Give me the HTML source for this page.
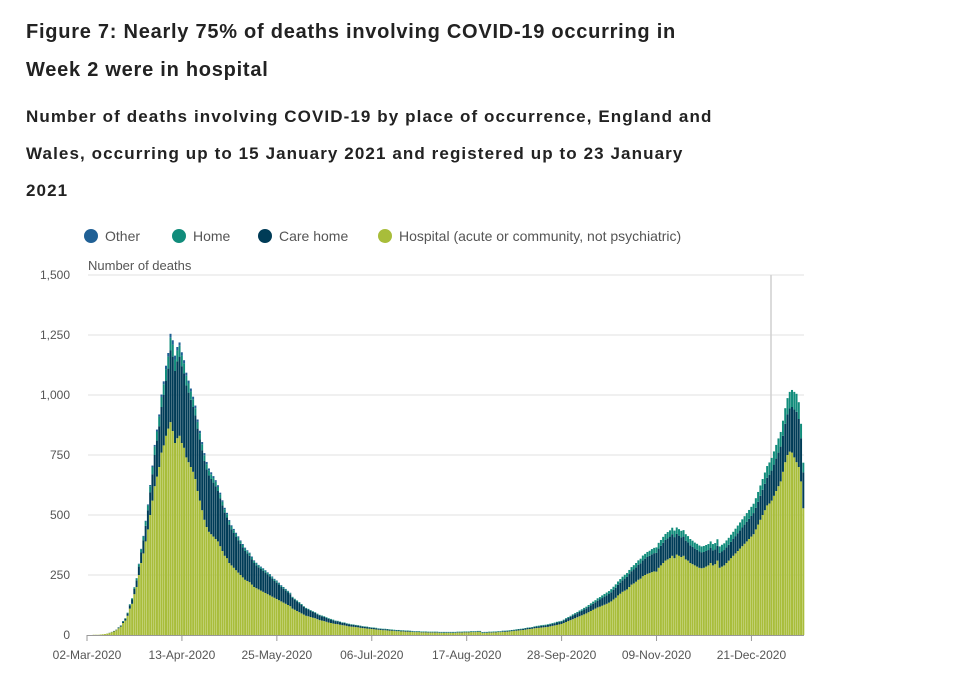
<!DOCTYPE html>
<html><head><meta charset="utf-8"><style>
body{margin:0;background:#fff;width:962px;height:696px;overflow:hidden;font-family:"Liberation Sans",sans-serif;}
.t{position:absolute;left:26px;font-weight:bold;color:#222;}
</style></head><body>
<div class="t" style="top:13px;font-size:20px;line-height:38px;letter-spacing:0.75px;">Figure 7: Nearly 75% of deaths involving COVID-19 occurring in<br>Week 2 were in hospital</div>
<div class="t" style="top:98px;font-size:17px;line-height:37px;letter-spacing:1.1px;">Number of deaths involving COVID-19 by place of occurrence, England and<br>Wales, occurring up to 15 January 2021 and registered up to 23 January<br>2021</div>
<svg id="c" width="962" height="696" style="position:absolute;left:0;top:0"></svg>
<script>
const hosp=[0,0,0,1,1,1,2, 3,4,6,8,12,15,20, 28,35,50,60,80,110,130, 170,200,250,300,340,390,440, 500,560,620,660,700,760,790, 830,860,887,850,800,820,830,
800,780,740,720,700,680,650, 600,560,520,480,450,430,420, 410,400,390,370,350,330,320, 300,290,280,270,260,250,240, 230,225,220,210,200,195,190,
185,180,175,170,165,160,155, 150,145,140,135,130,125,120, 110,105,100,95,90,85,80, 78,75,72,70,66,62,60, 58,55,52,50,48,46,45, 43,41,40,38,36,35,34,
33,32,30,29,28,27,26, 25,24,23,22,21,20,20, 19,18,18,17,16,16,15, 15,14,14,13,13,12,12, 12,11,11,11,10,10,10, 10,10,9,9,9,9,9, 9,9,9,10,10,10,11,
11,11,12,12,12,13,13, 8,9,9,10,10,11,11, 12,12,13,13,14,15,16, 17,18,19,20,21,22,24, 25,26,28,29,30,31,32, 33,34,36,38,40,42,44,
46,50,54,58,62,66,70, 74,78,82,86,90,95,100, 105,110,115,118,122,126,130, 135,140,148,155,165,172,180, 185,190,200,210,215,222,230, 235,245,250,255,258,262,265,
264,280,290,300,310,315,320, 330,320,335,330,325,330,315, 310,300,295,290,285,280,278, 280,285,290,300,290,295,310, 280,285,290,300,310,320,330, 340,350,360,370,380,390,400,
410,420,440,460,480,500,520, 540,548,560,580,600,620,640, 680,720,750,764,760,740,720, 700,640,528];
const careHome=[0,0,0,0,0,0,0, 0,0,0,1,1,2,2, 3,4,6,8,10,14,18, 22,28,35,45,55,65,80, 95,110,130,150,170,190,210, 230,250,300,310,300,320,330,
320,310,300,290,280,270,265, 260,255,250,245,240,235,230, 225,220,210,200,190,180,170, 160,150,145,140,135,130,125, 120,115,110,105,100,95,92,
90,88,85,82,80,75,70, 68,65,60,58,55,52,50, 45,42,40,38,35,32,30, 28,26,24,22,20,19,18, 17,16,15,14,13,12,12, 11,10,10,9,9,8,8, 7,7,7,6,6,6,5,
5,5,5,4,4,4,4, 4,4,3,3,3,3,3, 3,3,3,3,2,2,2, 2,2,2,2,2,2,2, 2,2,2,2,2,2,2, 2,2,2,2,2,2,2, 2,2,2,2,2,2,2, 2,2,2,2,2,2,2,
2,2,3,3,3,3,3, 3,4,4,4,4,5,5, 5,5,6,6,6,7,7, 7,8,8,9,9,10,10,
10,11,12,13,14,15,16, 17,18,19,20,21,22,24, 25,26,28,30,32,34,35, 36,38,40,42,44,46,48, 50,52,54,56,58,60,62, 64,66,68,70,72,74,76,
78,80,82,84,86,88,90, 90,88,86,84,82,80,78, 76,74,72,70,70,68,66, 66,65,64,64,63,62,62, 62,63,64,65,66,68,70, 72,74,76,78,80,82,84,
86,88,90,95,100,105,110, 115,120,125,130,135,140,145, 150,160,170,180,190,200,210, 200,180,150];
const home=[0,0,0,0,0,0,0, 0,0,0,0,0,0,0, 1,1,2,2,3,4,5, 6,8,10,12,15,18,20, 25,30,35,38,40,42,45, 48,50,52,50,48,45,45,
44,42,40,38,35,32,30, 28,26,25,24,22,21,20, 19,18,17,16,15,14,13, 13,12,12,11,11,10,10, 10,9,9,8,8,8,7, 7,7,7,6,6,6,6, 6,5,5,5,5,5,4,
4,4,4,4,4,3,3, 3,3,3,3,3,3,3, 3,3,3,3,3,2,2, 2,2,2,2,2,2,2, 2,2,2,2,2,2,2,
2,2,2,2,2,2,2, 2,2,2,2,2,2,2, 2,2,2,2,2,2,2, 2,2,2,2,2,2,2, 2,2,2,2,2,2,2, 2,2,2,2,2,2,2, 2,2,2,2,2,2,2, 2,2,2,2,2,2,2, 2,2,2,2,2,2,2, 2,2,2,2,2,2,2, 2,2,2,3,3,3,3, 3,3,3,3,3,3,3,
3,3,4,4,4,5,5, 5,6,6,7,7,8,8, 9,9,10,10,11,11,12, 12,13,13,14,14,15,15, 16,16,17,17,18,18,19, 19,20,20,21,21,22,22,
23,24,24,25,25,26,26, 27,27,27,27,27,27,27, 26,26,26,25,25,25,25, 25,25,25,26,26,26,27, 27,28,28,29,29,30,30, 31,32,33,34,35,36,37,
38,39,40,41,43,45,47, 49,51,53,55,57,59,61, 63,65,67,69,71,73,75, 70,60,40];
const other=[0,0,0,0,0,0,0, 0,0,0,0,0,0,0, 0,0,0,0,0,0,0, 1,1,2,2,3,3,4, 5,6,7,8,9,10,12, 14,15,16,18,16,15,14,
14,13,13,12,12,11,11, 10,10,9,9,9,8,8, 8,7,7,7,6,6,6, 6,5,5,5,5,4,4, 4,4,4,4,3,3,3, 3,3,3,3,3,3,3, 3,3,3,2,2,2,2];
const yTicks=[0,250,500,750,1000,1250,1500];
const yTickLabels=["0","250","500","750","1,000","1,250","1,500"];
const xTickDays=[0,42,84,126,168,210,252,294];
const xTickLabels=["02-Mar-2020","13-Apr-2020","25-May-2020","06-Jul-2020","17-Aug-2020","28-Sep-2020","09-Nov-2020","21-Dec-2020"];
const legendNames=["Other","Home","Care home","Hospital (acute or community, not psychiatric)"];

const svg=document.getElementById('c');
const NS='http://www.w3.org/2000/svg';
const X0=87,STEP=2.26,Y0=635,YTOP=275,YMAX=1500;
const xs=d=>X0+d*STEP;
const ys=v=>Y0-v/YMAX*(Y0-YTOP);
function mk(t,a){const e=document.createElementNS(NS,t);for(const k in a)e.setAttribute(k,a[k]);svg.appendChild(e);return e;}
const colors={other:'#206095',home:'#118c7b',care:'#003c57',hosp:'#a8bd3a'};
yTicks.forEach((v,i)=>{
 if(v>0){const g=mk('line',{x1:88,x2:804,y1:ys(v),y2:ys(v),stroke:'#e2e2e2','stroke-width':1});
 
 }
 const t=mk('text',{x:70,y:ys(v)+4,'text-anchor':'end','font-size':12,fill:'#555','font-family':'Liberation Sans, sans-serif'});
 t.textContent=yTickLabels[i];
 
 
});
const yt=mk('text',{x:88,y:270,'font-size':13,fill:'#555','font-family':'Liberation Sans, sans-serif'});
yt.textContent='Number of deaths';


const vl=mk('line',{x1:771,x2:771,y1:275,y2:635,stroke:'#cfcfcf','stroke-width':1.5});


const n=hosp.length;
for(let i=0;i<n;i++){
 const segs=[[hosp[i]||0,colors.hosp,'bar-hospital'],[careHome[i]||0,colors.care,'bar-care-home'],[home[i]||0,colors.home,'bar-home'],[other[i]||0,colors.other,'bar-other']];
 let base=0;
 segs.forEach(s=>{
  if(s[0]<=0)return;
  const y1=ys(base+s[0]),y2=ys(base);
  const r=mk('rect',{x:xs(i)-1.1,y:y1,width:STEP*0.88,height:Math.max(0,y2-y1),fill:s[1]});
  
  
  base+=s[0];
 });
}
const ax=mk('line',{x1:87,x2:804,y1:635.5,y2:635.5,stroke:'#999','stroke-width':1});


xTickDays.forEach((d,i)=>{
 const tk=mk('line',{x1:xs(d),x2:xs(d),y1:635,y2:641,stroke:'#999'});
 
 
 const t=mk('text',{x:xs(d),y:659,'text-anchor':'middle','font-size':12,fill:'#555','font-family':'Liberation Sans, sans-serif'});
 t.textContent=xTickLabels[i];
 
 
});
const lx=[91,179,265,385],lc=[colors.other,colors.home,colors.care,colors.hosp];
legendNames.forEach((nm,i)=>{
 const c=mk('circle',{cx:lx[i],cy:236,r:7,fill:lc[i]});
 
 
 const t=mk('text',{x:lx[i]+14,y:241,'font-size':14,fill:'#555','font-family':'Liberation Sans, sans-serif'});
 t.textContent=nm;
 
 
});
</script>
</body></html>
